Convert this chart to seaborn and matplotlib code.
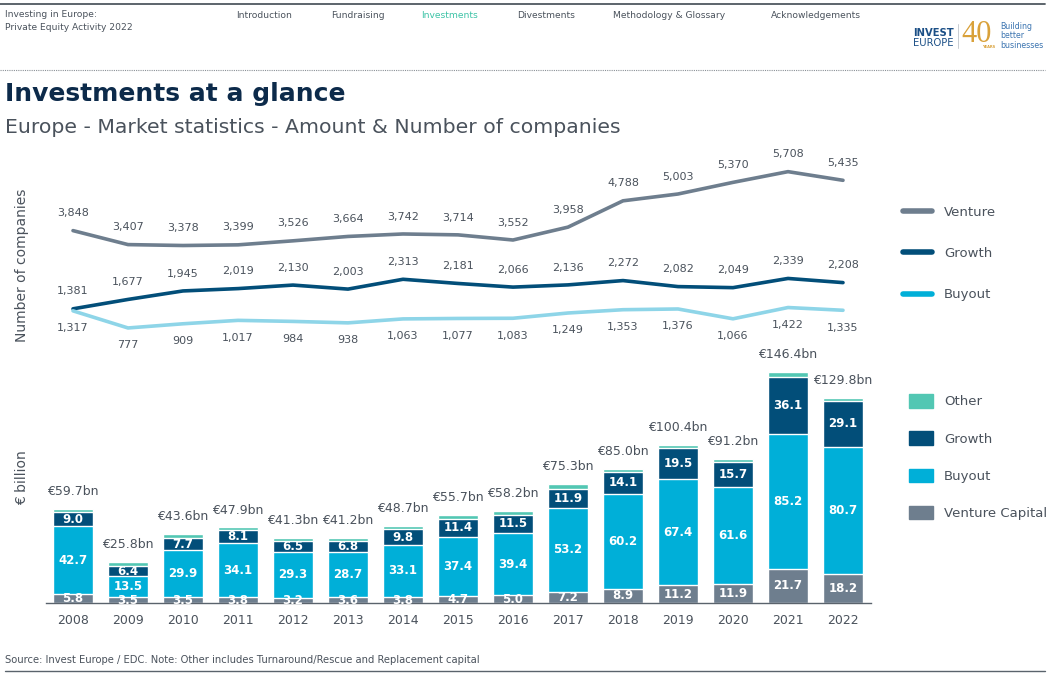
import numpy as np
import matplotlib
matplotlib.use("Agg")
import matplotlib.pyplot as plt
from matplotlib.patches import Patch
from matplotlib.lines import Line2D
import seaborn as sns

# --- datos ---
years = [2008, 2009, 2010, 2011, 2012, 2013, 2014, 2015, 2016, 2017, 2018, 2019, 2020, 2021, 2022]

# numero de empresas
n_venture = [3848, 3407, 3378, 3399, 3526, 3664, 3742, 3714, 3552, 3958, 4788, 5003, 5370, 5708, 5435]
n_growth = [1381, 1677, 1945, 2019, 2130, 2003, 2313, 2181, 2066, 2136, 2272, 2082, 2049, 2339, 2208]
n_buyout = [1317, 777, 909, 1017, 984, 938, 1063, 1077, 1083, 1249, 1353, 1376, 1066, 1422, 1335]

# importes (EUR bn)
amt_vc = [5.8, 3.5, 3.5, 3.8, 3.2, 3.6, 3.8, 4.7, 5.0, 7.2, 8.9, 11.2, 11.9, 21.7, 18.2]
amt_buyout = [42.7, 13.5, 29.9, 34.1, 29.3, 28.7, 33.1, 37.4, 39.4, 53.2, 60.2, 67.4, 61.6, 85.2, 80.7]
amt_growth = [9.0, 6.4, 7.7, 8.1, 6.5, 6.8, 9.8, 11.4, 11.5, 11.9, 14.1, 19.5, 15.7, 36.1, 29.1]
amt_other = [2.2, 2.4, 2.5, 1.9, 2.3, 2.1, 2.0, 2.2, 2.3, 3.0, 1.8, 2.3, 2.0, 3.4, 1.8]
totals = [59.7, 25.8, 43.6, 47.9, 41.3, 41.2, 48.7, 55.7, 58.2, 75.3, 85.0, 100.4, 91.2, 146.4, 129.8]

# colores
C_VENT = "#6E7E8E"
C_GROW = "#024E79"
C_BUY_LINE = "#8ED5E8"
C_BUY = "#00AFD8"
C_OTHER = "#52C7B3"
C_TEXT = "#4A525C"
C_NAVY = "#0C2A4A"

sns.set_theme(style="white")
plt.rcParams["font.family"] = ["DejaVu Sans"]

W, H = 1049, 676
fig = plt.figure(figsize=(W / 100, H / 100), dpi=100)


def box(x0, y0, x1, y1):
    # pixeles -> coordenadas de figura
    return [x0 / W, 1 - y1 / H, (x1 - x0) / W, (y1 - y0) / H]


def ftxt(x, y, s, **kw):
    fig.text(x / W, 1 - y / H, s, **kw)


# ==========================================
# Cabecera
# ==========================================
fig.add_artist(Line2D([0, 1045 / W], [1 - 4 / H] * 2, color="#4F5860", lw=1.3))
fig.add_artist(Line2D([0, 1045 / W], [1 - 70 / H] * 2, color="#8A9096", lw=0.8, ls=(0, (1, 1))))
fig.add_artist(Line2D([5 / W, 1045 / W], [1 - 671 / H] * 2, color="#5A636C", lw=1.0))

ftxt(5, 17, "Investing in Europe:", fontsize=6.6, color=C_TEXT, va="baseline")
ftxt(5, 30, "Private Equity Activity 2022", fontsize=6.6, color=C_TEXT, va="baseline")
nav = [("Introduction", 236), ("Fundraising", 331), ("Investments", 421),
       ("Divestments", 517), ("Methodology & Glossary", 613), ("Acknowledgements", 771)]
for name, xp in nav:
    ftxt(xp, 18, name, fontsize=6.6, va="baseline",
         color="#3CC3A6" if name == "Investments" else C_TEXT)

# logo
ftxt(913, 36, "INVEST", fontsize=7.2, fontweight="bold", color="#1B4F86", va="baseline")
ftxt(913, 46, "EUROPE", fontsize=7.2, color="#1B4F86", va="baseline")
fig.add_artist(Line2D([958 / W] * 2, [1 - 24 / H, 1 - 48 / H], color="#C9CDD2", lw=0.7))
ftxt(961, 42, "40", fontsize=22, family="Liberation Serif", color="#D9A13A", va="baseline")
ftxt(982, 48.5, "YEARS", fontsize=2.6, color="#D9A13A", va="baseline", fontweight="bold")
for i, w in enumerate(["Building", "better", "businesses"]):
    ftxt(1000, 29 + i * 9.5, w, fontsize=5.7, color="#3B74B0", va="baseline")

ftxt(5, 101, "Investments at a glance", fontsize=18, fontweight="bold", color=C_NAVY, va="baseline")
ftxt(5, 133, "Europe - Market statistics - Amount & Number of companies", fontsize=14.7,
     color=C_TEXT, va="baseline")

ftxt(5, 663, "Source: Invest Europe / EDC. Note: Other includes Turnaround/Rescue and Replacement capital",
     fontsize=7.2, color=C_TEXT, va="baseline")

# ==========================================
# Grafico 1: numero de empresas (lineas)
# ==========================================
ax1 = fig.add_axes(box(45.5, 150, 870.5, 352.6))
series = [(n_venture, C_VENT, 12.5), (n_growth, C_GROW, 12.5), (n_buyout, C_BUY_LINE, -12.5)]
for vals, col, off in series:
    sns.lineplot(x=years, y=vals, color=col, lw=2.6, ax=ax1)
    for yr, v in zip(years, vals):
        ax1.annotate(f"{v:,}", (yr, v), xytext=(0, off), textcoords="offset points",
                     ha="center", va="center", fontsize=8, color=C_TEXT)
ax1.set_xlim(2007.5, 2022.5)
ax1.set_ylim(0, 6391)
ax1.axis("off")

h1 = [Line2D([], [], color=C_VENT, lw=4), Line2D([], [], color=C_GROW, lw=4),
      Line2D([], [], color=C_BUY, lw=4)]
fig.legend(h1, ["Venture", "Growth", "Buyout"], loc="upper left",
           bbox_to_anchor=(903 / W, 1 - 206 / H), frameon=False, fontsize=9.5,
           labelcolor=C_TEXT, handlelength=2.2, handletextpad=0.9, labelspacing=2.13,
           borderpad=0, borderaxespad=0)
ftxt(22, 265, "Number of companies", rotation=90, ha="center", va="center",
     fontsize=10, color=C_TEXT)

# ==========================================
# Grafico 2: importes (barras apiladas)
# ==========================================
ax2 = fig.add_axes(box(45.5, 365, 870.5, 603))
vc = np.array(amt_vc)
bo = np.array(amt_buyout)
gr = np.array(amt_growth)
ot = np.array(amt_other)
labels_x = [str(y) for y in years]
layers = [(vc + bo + gr + ot, C_OTHER), (vc + bo + gr, C_GROW), (vc + bo, C_BUY), (vc, C_VENT)]
for top, col in layers:
    sns.barplot(x=labels_x, y=top, color=col, saturation=1, width=0.71, errorbar=None, ax=ax2)

for i in range(len(years)):
    segs = [(0, vc[i]), (vc[i], vc[i] + bo[i]), (vc[i] + bo[i], vc[i] + bo[i] + gr[i])]
    for lo, hi in segs:
        ax2.text(i, (lo + hi) / 2, f"{hi - lo:.1f}", ha="center", va="center",
                 fontsize=8.5, fontweight="bold", color="white")
    ax2.annotate(f"\u20ac{totals[i]:.1f}bn", (i, vc[i] + bo[i] + gr[i] + ot[i]),
                 xytext=(0, 12.5), textcoords="offset points", ha="center", va="center",
                 fontsize=9, color=C_TEXT)

ax2.set_xlim(-0.5, 14.5)
ax2.set_ylim(0, 150.8)
ax2.set_yticks([])
ax2.set_xlabel("")
ax2.set_ylabel("")
for s in ["top", "right", "left"]:
    ax2.spines[s].set_visible(False)
ax2.spines["bottom"].set_color("#5A636C")
ax2.spines["bottom"].set_linewidth(1.0)
ax2.set_xticks(np.arange(-0.5, 15, 1), minor=True)
ax2.tick_params(axis="x", which="major", length=0, pad=8, labelsize=9, labelcolor=C_TEXT)
ax2.tick_params(axis="x", which="minor", length=5, width=1.0, color="#5A636C", direction="out")

h2 = [Patch(color=C_OTHER), Patch(color=C_GROW), Patch(color=C_BUY), Patch(color=C_VENT)]
fig.legend(h2, ["Other", "Growth", "Buyout", "Venture Capital"], loc="upper left",
           bbox_to_anchor=(909 / W, 1 - 394 / H), frameon=False, fontsize=9.5,
           labelcolor=C_TEXT, handlelength=1.8, handleheight=1.2, handletextpad=0.85,
           labelspacing=1.75, borderpad=0, borderaxespad=0)
ftxt(22, 478, "\u20ac billion", rotation=90, ha="center", va="center", fontsize=10, color=C_TEXT)

fig.savefig("out.png", dpi=100)
